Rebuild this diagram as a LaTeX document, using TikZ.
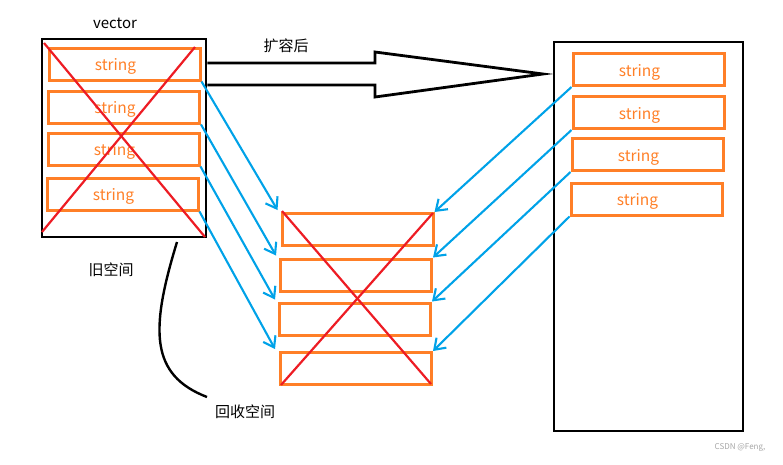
\documentclass[tikz,border=0pt]{standalone}
\usepackage{fontspec}
\setmainfont{Noto Sans CJK SC}
\usetikzlibrary{arrows.meta,calc}
\definecolor{porange}{HTML}{FF7F27}
\definecolor{pred}{HTML}{ED1C24}
\definecolor{pblue}{HTML}{00A2E8}
\newcommand{\strtext}{\hspace*{-18pt}\raisebox{-2.5pt}{string}}
\begin{document}
\begin{tikzpicture}[x=1pt,y=-1pt,
  strbox/.style={draw=porange,line width=3pt,minimum width=151pt,minimum height=32pt,inner sep=0pt,
    text height=11pt,text depth=3pt,
    text=porange,font=\fontsize{15.5}{17}\selectfont},
  outerbox/.style={draw=black,line width=2.8pt,inner sep=0pt},
  cross/.style={draw=pred,line width=2.2pt},
  move/.style={draw=pblue,line width=2.1pt,-{Straight Barb[length=10pt,width=14pt,line width=2.1pt]}},
  lbl/.style={font=\fontsize{15}{17}\selectfont,text=black}]
\useasboundingbox (0,0) rectangle (783,464);
% left vector
\node[outerbox,minimum width=164pt,minimum height=198pt] (LB) at (124,138) {};
\node[strbox] (L1) at (124.5,64) {\strtext};
\node[strbox] (L2) at (124,107) {\strtext};
\node[strbox] (L3) at (123.5,149) {\strtext};
\node[strbox] (L4) at (122.5,194) {\strtext};
\coordinate (lx1) at (44,43);
\coordinate (lx2) at (205,237);
\coordinate (lx3) at (42,232);
\coordinate (lx4) at (195,47);
\draw[cross] (lx1) -- (lx2);
\draw[cross] (lx3) -- (lx4);
\node[lbl] (vec) at (115,23) {vector};
\node[lbl] (old) at (111,270) {旧空间};
% big arrow
\draw[line width=2.8pt,line join=miter] (LB.east |- 0,63) -- (375,63) -- (375,52) -- (543,74) -- (375,97) -- (375,85) -- (LB.east |- 0,85);
\node[lbl] (exp) at (286,46) {扩容后};
% right vector
\node[outerbox,minimum width=189pt,minimum height=389pt] (RB) at (648.5,236.5) {};
\node[strbox] (R1) at (648.5,69.5) {\strtext};
\node[strbox] (R2) at (648.5,112.5) {\strtext};
\node[strbox] (R3) at (647.5,154.5) {\strtext};
\node[strbox] (R4) at (646.5,199) {\strtext};
% middle (freed) block
\node[strbox] (M1) at (357.5,229.5) {};
\node[strbox] (M2) at (356,275) {};
\node[strbox] (M3) at (355,319) {};
\node[strbox] (M4) at (356,368.5) {};
\coordinate (mx1) at (282,211);
\coordinate (mx2) at (431,384);
\coordinate (mx3) at (281,385);
\coordinate (mx4) at (433,213);
\draw[cross] (mx1) -- (mx2);
\draw[cross] (mx3) -- (mx4);
% copy arrows
\draw[move] (L1.south east) -- ($(M1.north west)+(-3,-2)$);
\draw[move] (L2.south east) -- ($(M2.north west)+(-3,-2)$);
\draw[move] (L3.south east) -- ($(M3.north west)+(-3,-2)$);
\draw[move] (L4.south east) -- ($(M4.north west)+(-4,-2)$);
\draw[move] (R1.south west) -- (M1.north east);
\draw[move] (R2.south west) -- (M2.north east);
\draw[move] (R3.south west) -- (M3.north east);
\draw[move] (R4.south west) -- (M4.north east);
% reclaim curve
\coordinate (c0) at (177,242);
\node[lbl] (rec) at (245,412) {回收空间};
\draw[line width=2.4pt] (c0) .. controls (150,330) and (150,375) .. (207,397);
\node[font=\fontsize{8}{9}\selectfont,text=gray!70] (wm) at (740,448) {CSDN @Feng,};
\end{tikzpicture}
\end{document}
